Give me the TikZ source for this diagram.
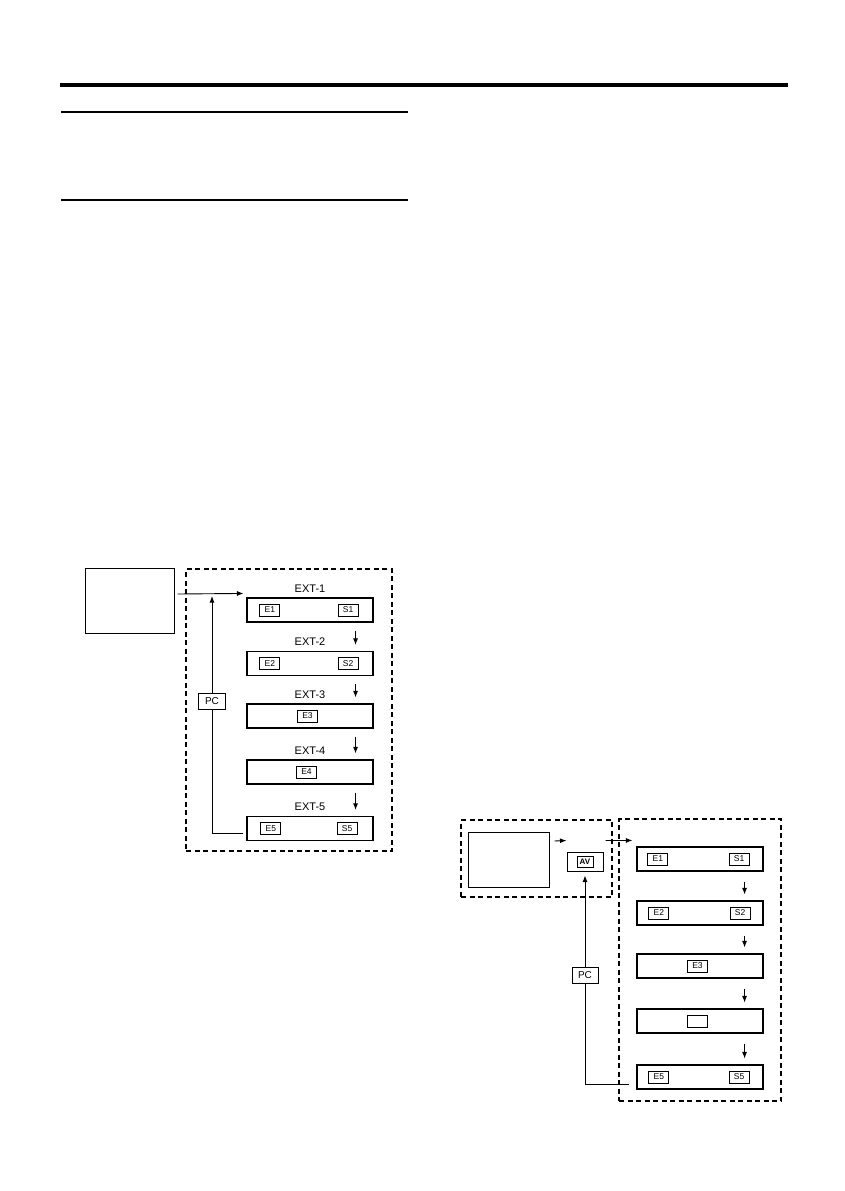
\documentclass[tikz,border=0pt]{standalone}
\usepackage{fontspec}
\setmainfont{Liberation Sans}
\usetikzlibrary{arrows.meta, positioning, calc}

\begin{document}
\begin{tikzpicture}[
    x=1pt, y=-1pt,
    screen/.style={rectangle, draw, line width=1pt, inner sep=0pt},
    grp/.style={rectangle, draw, line width=1.4pt, dash pattern=on 5pt off 3.5pt, inner sep=0pt},
    row/.style={rectangle, draw, line width=1.1pt, minimum width=126pt, minimum height=24pt, inner sep=0pt},
    tag/.style={rectangle, draw, line width=0.9pt, minimum width=20pt, minimum height=12pt, inner sep=0pt, font=\fontsize{8.5}{8.5}\selectfont},
    lbl/.style={font=\fontsize{11}{11}\selectfont, inner sep=0pt},
    pcbox/.style={rectangle, draw, line width=0.9pt, minimum width=27pt, minimum height=16pt, inner sep=0pt, font=\fontsize{10}{10}\selectfont},
    arr/.style={-{Latex[length=6.5pt, width=5pt]}, line width=0.9pt},
    wire/.style={line width=0.9pt},
]
\useasboundingbox (0,0) rectangle (844,1191);

% page rules
\draw[line width=4pt] (60,85) -- (788,85);
\draw[line width=2pt] (61,112) -- (408,112);
\draw[line width=2pt] (61,200) -- (408,200);

% ---- left diagram ----
\node[screen, minimum width=89pt, minimum height=65pt] (tv) at (129.5,600.5) {};
\node[grp, minimum width=206pt, minimum height=282pt] (extgrp) at (289,710) {};

\node[row] (r1) at (310,610) {};
\node[row] (r2) at (310,663.5) {};
\node[row] (r3) at (310,716) {};
\node[row] (r4) at (310,772) {};
\node[row] (r5) at (310,828.5) {};

\node[lbl, above=5pt of r1] (x1) {EXT-1};
\node[lbl, above=5pt of r2] (x2) {EXT-2};
\node[lbl, above=5pt of r3] (x3) {EXT-3};
\node[lbl, above=5pt of r4] (x4) {EXT-4};
\node[lbl, above=5pt of r5] (x5) {EXT-5};

\node[tag, right=13pt of r1.west, anchor=west] (e1) {E1};
\node[tag, left=15pt of r1.east, anchor=east] (s1) {S1};
\node[tag, right=13pt of r2.west, anchor=west] (e2) {E2};
\node[tag, left=15pt of r2.east, anchor=east] (s2) {S2};
\node[tag, xshift=-2.5pt] (e3) at (r3) {E3};
\node[tag, xshift=-3.5pt] (e4) at (r4) {E4};
\node[tag, right=14pt of r5.west, anchor=west] (e5) {E5};
\node[tag, left=16pt of r5.east, anchor=east] (s5) {S5};

\node[pcbox] (pc) at (212,701) {PC};
\coordinate (jn) at (212,596);

% steps
\foreach \a/\b in {r1/r2, r2/r3, r3/r4, r4/r5}
  \draw[arr] ([xshift=-18pt,yshift=-8pt]\a.south east) -- ([xshift=-18pt,yshift=6pt]\b.north east);

\draw[arr] ([xshift=3pt,yshift=6.5pt]tv.east) -- ([xshift=-3pt,yshift=4pt]r1.north west);
\draw[wire] ([xshift=-3pt,yshift=-4.5pt]r5.west) -| (pc.south);
\draw[arr] (pc.north) -- (jn);

% ---- right diagram ----
\node[grp, minimum width=151pt, minimum height=77pt] (avgrp) at (536.5,858.5) {};
\node[screen, minimum width=81pt, minimum height=55pt] (tv2) at (508.5,859.5) {};
\node[screen, minimum width=36pt, minimum height=19pt] (av) at (585,861.5) {};
\node[tag, minimum width=16pt, minimum height=11pt, font=\fontsize{8}{8}\selectfont\bfseries] (avtag) at (av) {AV};

\node[grp, minimum width=162pt, minimum height=282pt] (rgrp) at (700,960) {};

\node[row] (q1) at (700,859) {};
\node[row] (q2) at (700,913) {};
\node[row] (q3) at (700,966) {};
\node[row] (q4) at (700,1021) {};
\node[row] (q5) at (700,1077) {};

\node[tag, right=11pt of q1.west, anchor=west] (f1) {E1};
\node[tag, left=14pt of q1.east, anchor=east] (t1) {S1};
\node[tag, right=12pt of q2.west, anchor=west] (f2) {E2};
\node[tag, left=13pt of q2.east, anchor=east] (t2) {S2};
\node[tag, xshift=-2.5pt] (f3) at (q3) {E3};
\node[tag, xshift=-2.5pt, yshift=-0.5pt] (f4) at (q4) {};
\node[tag, right=12pt of q5.west, anchor=west] (f5) {E5};
\node[tag, left=14pt of q5.east, anchor=east] (t5) {S5};

\node[pcbox, minimum width=26pt] (pc2) at (585,975) {PC};

\foreach \a/\b in {q1/q2, q2/q3, q3/q4, q4/q5}
  \draw[arr] ([xshift=-19pt,yshift=-10pt]\a.south east) -- ([xshift=-19pt,yshift=6pt]\b.north east);

\draw[arr] ([xshift=5pt,yshift=18.5pt]tv2.east) -- ([yshift=11pt]av.north west);
\draw[arr] ([xshift=2pt,yshift=11pt]av.north east) -- ([xshift=-4pt,yshift=6pt]q1.north west);
\draw[wire] ([xshift=-7pt,yshift=-7pt]q5.west) -| (pc2.south);
\draw[arr] (pc2.north) -- ([yshift=-4pt]av.south);

\end{tikzpicture}
\end{document}
